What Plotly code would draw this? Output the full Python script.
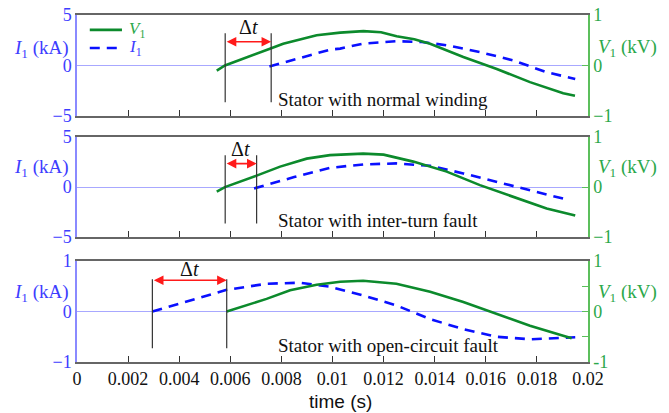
import plotly.graph_objects as go

# ---------------- data ----------------
x_ticks = [0, 0.002, 0.004, 0.006, 0.008, 0.01, 0.012, 0.014, 0.016, 0.018, 0.02]
x_ticktext = ["0", "0.002", "0.004", "0.006", "0.008", "0.01", "0.012", "0.014", "0.016", "0.018", "0.02"]

# Panel 1: normal winding
t_v1_normal = [0.00547, 0.00579, 0.00755, 0.00807, 0.00938, 0.0099, 0.0103, 0.01121, 0.0119, 0.01251, 0.0132, 0.01382, 0.01512, 0.01643, 0.01773, 0.01903, 0.01949]
v1_normal = [-0.10, 0.0, 0.33, 0.43, 0.60, 0.63, 0.65, 0.68, 0.66, 0.58, 0.52, 0.43, 0.17, -0.07, -0.33, -0.55, -0.60]
t_i1_normal = [0.00753, 0.0090, 0.0099, 0.0103, 0.0112, 0.0125, 0.0135, 0.01447, 0.01577, 0.01708, 0.01838, 0.0195]
i1_normal = [-0.1, 0.9, 1.57, 1.67, 2.17, 2.4, 2.33, 2.0, 1.33, 0.5, -0.67, -1.33]

# Panel 2: inter-turn fault
t_v1_turn = [0.00547, 0.00579, 0.00703, 0.00795, 0.00899, 0.0099, 0.0112, 0.0120, 0.01316, 0.01447, 0.01577, 0.01708, 0.01838, 0.0195]
v1_turn = [-0.09, 0.0, 0.23, 0.41, 0.57, 0.64, 0.67, 0.65, 0.51, 0.31, 0.04, -0.19, -0.43, -0.57]
t_i1_turn = [0.00693, 0.0085, 0.0099, 0.0112, 0.0125, 0.01382, 0.01512, 0.01643, 0.01773, 0.0191]
i1_turn = [-0.13, 1.0, 1.93, 2.27, 2.37, 2.13, 1.37, 0.53, -0.3, -1.2]

# Panel 3: open-circuit fault
t_v1_open = [0.00586, 0.00742, 0.00834, 0.00938, 0.0103, 0.0112, 0.0125, 0.01382, 0.01512, 0.01643, 0.01773, 0.01903, 0.01936]
v1_open = [0.0, 0.25, 0.42, 0.53, 0.59, 0.61, 0.55, 0.39, 0.19, -0.05, -0.28, -0.48, -0.53]
t_i1_open = [0.00295, 0.00586, 0.00742, 0.00873, 0.0099, 0.0112, 0.0125, 0.01382, 0.01512, 0.01643, 0.01773, 0.01903, 0.0195]
i1_open = [0.0, 0.43, 0.55, 0.57, 0.49, 0.32, 0.12, -0.15, -0.35, -0.5, -0.55, -0.53, -0.51]

# Delta-t markers (time of V1 zero crossing, I1 zero crossing)
dt_normal = [0.0058, 0.0076]
dt_turn = [0.0058, 0.00703]
dt_open = [0.00295, 0.00586]

panel_labels = ["Stator with normal winding", "Stator with inter-turn fault", "Stator with open-circuit fault"]
i_ranges = [[-5, 5], [-5, 5], [-1, 1]]
i_ticks = [[-5, 0, 5], [-5, 0, 5], [-1, 0, 1]]
legend_names = ["<i>V</i><sub>1</sub>", "<i>I</i><sub>1</sub>"]
x_title = "time (s)"

# ---------------- styles ----------------
GREEN = "#0c8a2c"
BLUE = "#0a10ff"
BLUE_TXT = "#3d3dff"
GREEN_TXT = "#2ba84a"
BLUE_AX = "#8a8aff"
GREEN_AX = "#5cbf5c"
ZERO = "#a8a8ff"
SERIF = "Liberation Serif"
DASH = "10px,7px"

domains = [[0.709, 1.0], [0.360, 0.648], [0.0, 0.291]]

panels = [
    (t_v1_normal, v1_normal, t_i1_normal, i1_normal, dt_normal),
    (t_v1_turn, v1_turn, t_i1_turn, i1_turn, dt_turn),
    (t_v1_open, v1_open, t_i1_open, i1_open, dt_open),
]

fig = go.Figure()
layout = dict(
    width=669, height=413,
    margin=dict(l=77, r=81, t=15, b=51),
    plot_bgcolor="white", paper_bgcolor="white",
    showlegend=False,
    shapes=[], annotations=[],
)

for k, (tv, vv, ti, ii, dt) in enumerate(panels):
    n = k + 1
    xname = "x" if n == 1 else f"x{n}"
    yl = "y" if n == 1 else f"y{2*n-1}"
    yr = f"y{2*n}"
    xkey = "xaxis" if n == 1 else f"xaxis{n}"
    ylkey = "yaxis" if n == 1 else f"yaxis{2*n-1}"
    yrkey = f"yaxis{2*n}"
    last = (n == 3)

    layout[xkey] = dict(
        domain=[0, 1], range=[0, 0.02], anchor=yl, automargin=False,
        tickvals=x_ticks, ticktext=x_ticktext, showticklabels=last,
        ticks="inside", ticklen=6, tickcolor="#333", showgrid=False, zeroline=False,
        showline=True, mirror=True, linecolor="#666", linewidth=1.5,
        tickfont=dict(family=SERIF, size=18, color="#111"),
    )
    if not last:
        layout[xkey]["matches"] = "x3"

    layout[ylkey] = dict(
        domain=domains[k], range=i_ranges[k], anchor=xname, automargin=False,
        tickvals=i_ticks[k], ticks="", showgrid=False,
        zeroline=True, zerolinecolor=ZERO, zerolinewidth=1,
        showline=True, linecolor=BLUE_AX, linewidth=1.5,
        tickfont=dict(family=SERIF, size=18, color=BLUE_TXT),
    )
    rt = dict(tickvals=[-1, -0.5, 0, 0.5, 1], ticktext=["-1", "", "0", "", "1"]) if last else dict(tickvals=[-1, 0, 1])
    layout[yrkey] = dict(
        domain=domains[k], range=[-1, 1], anchor=xname, overlaying=yl, side="right", automargin=False,
        ticks="inside", ticklen=6, tickcolor=GREEN_AX, showgrid=False, zeroline=False,
        showline=True, linecolor=GREEN_AX, linewidth=1.5,
        tickfont=dict(family=SERIF, size=18, color=GREEN_TXT), **rt,
    )

    fig.add_trace(go.Scatter(
        x=tv, y=vv, xaxis=xname, yaxis=yr, mode="lines",
        line=dict(color=GREEN, width=2.6), name="V1",
    ))
    fig.add_trace(go.Scatter(
        x=ti, y=ii, xaxis=xname, yaxis=yl, mode="lines",
        line=dict(color=BLUE, width=2.6, dash=DASH), name="I1",
    ))

    # delta-t marker lines
    lo, hi = i_ranges[k]
    span = hi - lo
    for tx in dt:
        layout["shapes"].append(dict(
            type="line", xref=xname, yref=yl, x0=tx, x1=tx,
            y0=lo + 0.135 * span, y1=lo + 0.82 * span,
            line=dict(color="#333", width=1.2),
        ))
    arrow_y = lo + (0.81 if last else 0.735) * span
    layout["annotations"].append(dict(
        xref=xname, yref=yl, axref=xname, ayref=yl,
        x=dt[1], y=arrow_y, ax=dt[0], ay=arrow_y, text="",
        showarrow=True, arrowhead=2, arrowside="end+start", arrowsize=1.2,
        arrowwidth=1.6, arrowcolor="#ff1a1a", standoff=0, startstandoff=0,
    ))
    layout["annotations"].append(dict(
        xref=xname, yref=yl, x=(dt[0] + dt[1]) / 2, y=lo + (0.92 if last else 0.88) * span,
        text="Δ<i>t</i>", showarrow=False, yanchor="middle",
        font=dict(family=SERIF, size=20, color="#111"),
    ))
    layout["annotations"].append(dict(
        xref=xname, yref=yl, x=0.0078, y=lo + 0.165 * span, xanchor="left", yanchor="middle",
        text=panel_labels[k], showarrow=False,
        font=dict(family=SERIF, size=19, color="#111"),
    ))
    # axis titles
    iy = [1.6, 1.9, 0.36][k]
    layout["annotations"].append(dict(
        xref="paper", yref=yl, x=-0.012, y=iy, xanchor="right", yanchor="middle",
        text="<i>I</i><sub>1</sub> (kA)", showarrow=False,
        font=dict(family=SERIF, size=19, color=BLUE_TXT),
    ))
    vy = [0.35, 0.39, 0.37][k]
    layout["annotations"].append(dict(
        xref="paper", yref=yr, x=1.016, y=vy, xanchor="left", yanchor="middle",
        text="<i>V</i><sub>1</sub> (kV)", showarrow=False,
        font=dict(family=SERIF, size=19, color=GREEN_TXT),
    ))

# x axis title
layout["annotations"].append(dict(
    xref="paper", yref="paper", x=0.515, y=-0.115, xanchor="center", yanchor="middle",
    text=x_title, showarrow=False, font=dict(family="Liberation Sans", size=19, color="#111"),
))

# manual legend (top-left of first panel)
leg = [(legend_names[0], GREEN, "solid", GREEN_TXT, 0.957), (legend_names[1], BLUE, DASH, BLUE_TXT, 0.905)]
for name, col, dash, tcol, py in leg:
    layout["shapes"].append(dict(
        type="line", xref="paper", yref="paper", x0=0.025, x1=0.088, y0=py, y1=py,
        line=dict(color=col, width=2.6, dash=dash),
    ))
    layout["annotations"].append(dict(
        xref="paper", yref="paper", x=0.098, y=py, xanchor="left", yanchor="middle",
        text=name, showarrow=False, font=dict(family=SERIF, size=17, color=tcol),
    ))

fig.update_layout(**layout)
fig.write_html("out.html")
